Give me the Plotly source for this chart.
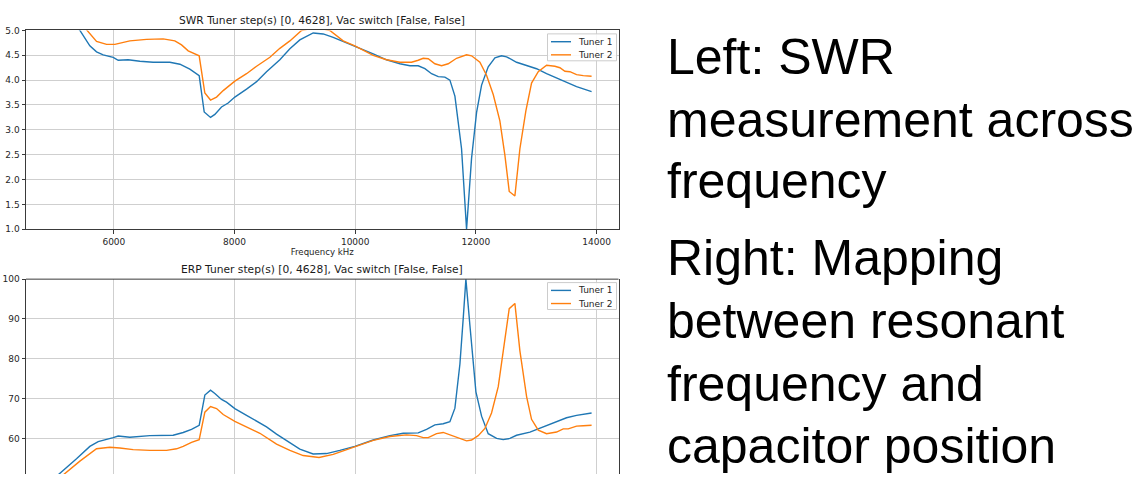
import plotly.graph_objects as go

W, H = 1146, 479

# ---- SWR sweep (kHz, ratio) ----
swr_t1_freq = [4990, 5437, 5602, 5713, 5823, 5989, 6072, 6237, 6431, 6651, 6928, 7094, 7259, 7414,
               7497, 7602, 7674, 7784, 7894, 8005, 8199, 8365, 8530, 8751, 8917, 9082, 9303, 9469,
               9635, 9994, 10298, 10519, 10740, 10906, 11044, 11155, 11265, 11376, 11486, 11569,
               11652, 11707, 11762, 11845, 11928, 12011, 12094, 12204, 12315, 12425, 12508, 12674,
               12840, 13005, 13171, 13337, 13502, 13668, 13917]
swr_t1 = [5.70, 5.00, 4.69, 4.57, 4.51, 4.46, 4.40, 4.41, 4.38, 4.36, 4.36, 4.32, 4.22, 4.09,
          3.36, 3.25, 3.31, 3.46, 3.54, 3.66, 3.82, 3.97, 4.17, 4.41, 4.63, 4.81, 4.95, 4.93,
          4.86, 4.69, 4.53, 4.41, 4.33, 4.29, 4.29, 4.23, 4.13, 4.07, 4.06, 4.00,
          3.68, 3.15, 2.62, 1.00, 2.43, 3.35, 3.90, 4.27, 4.45, 4.49, 4.47, 4.36,
          4.30, 4.23, 4.13, 4.04, 3.95, 3.87, 3.77]

swr_t2_freq = [4990, 5558, 5713, 5879, 6017, 6265, 6541, 6817, 7011, 7122, 7232, 7414, 7508, 7602,
               7702, 7812, 7922, 8005, 8199, 8365, 8586, 8751, 8917, 9110, 9350, 9580, 9800, 9994,
               10298, 10519, 10740, 10933, 11044, 11127, 11210, 11320, 11431, 11541, 11679, 11845,
               11928, 12066, 12176, 12287, 12397, 12480, 12552, 12646, 12729, 12828, 12922, 13033,
               13171, 13309, 13392, 13475, 13558, 13668, 13779, 13917]
swr_t2 = [5.80, 5.00, 4.78, 4.72, 4.72, 4.79, 4.82, 4.83, 4.79, 4.71, 4.59, 4.49, 3.74, 3.60,
          3.66, 3.79, 3.90, 3.98, 4.13, 4.28, 4.46, 4.64, 4.79, 5.00, 5.06, 5.00, 4.79, 4.69,
          4.50, 4.41, 4.36, 4.36, 4.40, 4.44, 4.43, 4.33, 4.29, 4.33, 4.44, 4.51,
          4.49, 4.36, 4.10, 3.71, 3.18, 2.49, 1.76, 1.67, 2.62, 3.38, 3.94, 4.17,
          4.30, 4.28, 4.25, 4.18, 4.17, 4.11, 4.09, 4.08]

# ---- ERP sweep (kHz, %) ----
erp_t1_freq = [4990, 5105, 5381, 5602, 5740, 5989, 6072, 6265, 6597, 6983, 7149, 7287, 7414, 7508,
               7602, 7674, 7784, 7867, 8005, 8199, 8365, 8530, 8696, 8917, 9082, 9303, 9524, 9745,
               9994, 10298, 10574, 10795, 11044, 11182, 11320, 11458, 11569, 11652, 11735, 11790,
               11834, 11900, 12000, 12094, 12204, 12343, 12452, 12563, 12674, 12895, 13116, 13337,
               13502, 13668, 13917]
erp_t1 = [49.7, 51.2, 54.9, 58.0, 59.2, 60.2, 60.6, 60.3, 60.7, 60.8, 61.5, 62.3, 63.3, 70.9,
          72.1, 71.3, 69.8, 69.1, 67.5, 65.8, 64.3, 62.9, 61.1, 59.0, 57.3, 56.1, 56.2, 57.0,
          58.0, 59.6, 60.7, 61.3, 61.4, 62.3, 63.4, 63.7, 64.2, 67.6, 78.7, 90.2,
          100.0, 88.5, 71.7, 65.6, 61.2, 60.0, 59.7, 60.0, 60.8, 61.6, 62.9, 64.3,
          65.2, 65.8, 66.4]

erp_t2_freq = [4990, 5188, 5437, 5713, 5934, 6099, 6320, 6597, 6873, 7039, 7149, 7287, 7414, 7508,
               7602, 7702, 7812, 8005, 8199, 8420, 8696, 8917, 9137, 9400, 9635, 9994, 10298,
               10574, 10850, 11016, 11127, 11210, 11348, 11458, 11569, 11707, 11845, 11928, 12038,
               12149, 12259, 12370, 12464, 12552, 12646, 12729, 12840, 12922, 13033, 13171, 13337,
               13447, 13530, 13668, 13779, 13917]
erp_t2 = [48.7, 51.2, 54.3, 57.4, 57.8, 57.6, 57.2, 57.0, 57.0, 57.4, 58.0, 59.0, 59.7, 66.6,
          68.0, 67.5, 66.0, 64.3, 62.9, 61.3, 58.6, 57.0, 55.7, 55.2, 56.0, 58.0, 59.5,
          60.5, 60.9, 60.7, 60.2, 60.2, 61.2, 61.5, 60.9, 60.0, 59.4, 59.6, 60.7,
          62.5, 66.4, 73.0, 82.8, 92.6, 93.9, 82.0, 70.5, 64.8, 62.1, 61.2, 61.6,
          62.4, 62.4, 63.1, 63.2, 63.3]

series_names = ["Tuner 1", "Tuner 2"]
series_colors = ["#1f77b4", "#ff7f0e"]
x_ticks = [6000, 8000, 10000, 12000, 14000]
x_tick_labels = ["6000", "8000", "10000", "12000", "14000"]
swr_ticks = [1.0, 1.5, 2.0, 2.5, 3.0, 3.5, 4.0, 4.5, 5.0]
erp_ticks = [60, 70, 80, 90, 100]

swr_title = "SWR Tuner step(s) [0, 4628], Vac switch [False, False]"
erp_title = "ERP Tuner step(s) [0, 4628], Vac switch [False, False]"
x_title = "Frequency kHz"
side_lines = [
    ["Left: SWR", "measurement across", "frequency"],
    ["Right: Mapping", "between resonant", "frequency and", "capacitor position"],
]


def px(x):
    return x / W


def py(y):
    return 1 - y / H


PLOT_L, PLOT_R = 26, 618.5
TOP_T, TOP_B = 26, 229
BOT_T = 280

TICK_FONT = dict(family="DejaVu Sans", size=9, color="#262626")
GRID = "#cfcfcf"
SPINE = "#3a3a3a"

fig = go.Figure()

for xs, ys, name, color in [(swr_t1_freq, swr_t1, series_names[0], series_colors[0]),
                            (swr_t2_freq, swr_t2, series_names[1], series_colors[1])]:
    fig.add_trace(go.Scatter(x=xs, y=ys, mode="lines", name=name, showlegend=False,
                             line=dict(color=color, width=1.4), xaxis="x", yaxis="y"))

for xs, ys, name, color in [(erp_t1_freq, erp_t1, series_names[0], series_colors[0]),
                            (erp_t2_freq, erp_t2, series_names[1], series_colors[1])]:
    fig.add_trace(go.Scatter(x=xs, y=ys, mode="lines", name=name, showlegend=False,
                             line=dict(color=color, width=1.4), xaxis="x2", yaxis="y2"))

x_range = [4544, 14363]
common_x = dict(range=x_range, tickmode="array", tickvals=x_ticks, ticktext=x_tick_labels,
                showgrid=True, gridcolor=GRID, gridwidth=1, zeroline=False, tickfont=TICK_FONT,
                domain=[px(PLOT_L), px(PLOT_R)])

fig.update_layout(
    width=W, height=H,
    margin=dict(l=0, r=0, t=0, b=0),
    paper_bgcolor="white", plot_bgcolor="white",
    showlegend=False,
    xaxis=dict(**common_x, anchor="y", showline=True, mirror=True, linecolor=SPINE,
               linewidth=1, ticks="outside", ticklen=3.5, tickcolor=SPINE,
               title=dict(text=x_title, font=dict(family="DejaVu Sans", size=8.6, color="#262626"),
                          standoff=3)),
    yaxis=dict(range=[1, 5], tickmode="array", tickvals=swr_ticks, tickformat=".1f",
               domain=[py(TOP_B), py(TOP_T)], anchor="x", showgrid=True, gridcolor=GRID,
               gridwidth=1, zeroline=False, showline=True, mirror=True, linecolor=SPINE,
               linewidth=1, ticks="outside", ticklen=3.5, tickcolor=SPINE, tickfont=TICK_FONT),
    xaxis2=dict(**common_x, anchor="y2", showline=False, showticklabels=False, ticks=""),
    yaxis2=dict(range=[51.07, 100], tickmode="array", tickvals=erp_ticks,
                domain=[0, py(BOT_T)], anchor="x2", showgrid=True, gridcolor=GRID,
                gridwidth=1, zeroline=False, showline=True, mirror=True, linecolor=SPINE,
                linewidth=1, ticks="outside", ticklen=3.5, tickcolor=SPINE, tickfont=TICK_FONT),
)

shapes = []
annotations = []

# top spine of the ERP panel
shapes.append(dict(type="line", xref="x2 domain", yref="y2 domain", x0=0, x1=1, y0=1, y1=1,
                   line=dict(color=SPINE, width=1)))

# panel titles
for text, ypix in [(swr_title, 15.5), (erp_title, 270)]:
    annotations.append(dict(text=text, x=px((PLOT_L + PLOT_R) / 2), y=py(ypix), xref="paper",
                            yref="paper", xanchor="center", yanchor="middle", showarrow=False,
                            font=dict(family="DejaVu Sans", size=10.7, color="#1a1a1a")))

# legend boxes
for top in (29.5, 283.5):
    shapes.append(dict(type="rect", xref="paper", yref="paper", x0=px(547.5), x1=px(616.5),
                       y0=py(top), y1=py(top + 27.5), fillcolor="rgba(255,255,255,0.85)",
                       line=dict(color="#cccccc", width=1)))
    for i, (name, color) in enumerate(zip(series_names, series_colors)):
        yrow = top + 8 + i * 13.4
        shapes.append(dict(type="line", xref="paper", yref="paper", x0=px(551), x1=px(571),
                           y0=py(yrow), y1=py(yrow), line=dict(color=color, width=1.4)))
        annotations.append(dict(text=name, x=px(576), y=py(yrow), xref="paper", yref="paper",
                                xanchor="left", yanchor="middle", showarrow=False,
                                font=dict(family="DejaVu Sans", size=9, color="#262626")))

# explanatory text on the right
baselines = [[73, 137, 200], [278, 343, 407, 470]]
for para, bls in zip(side_lines, baselines):
    for line, bl in zip(para, bls):
        annotations.append(dict(text=line, x=px(665), y=py(bl - 20), xref="paper", yref="paper",
                                xanchor="left", yanchor="middle", showarrow=False,
                                font=dict(family="Liberation Sans", size=50, color="#000000")))

fig.update_layout(shapes=shapes, annotations=annotations)

fig.write_html("out.html")
